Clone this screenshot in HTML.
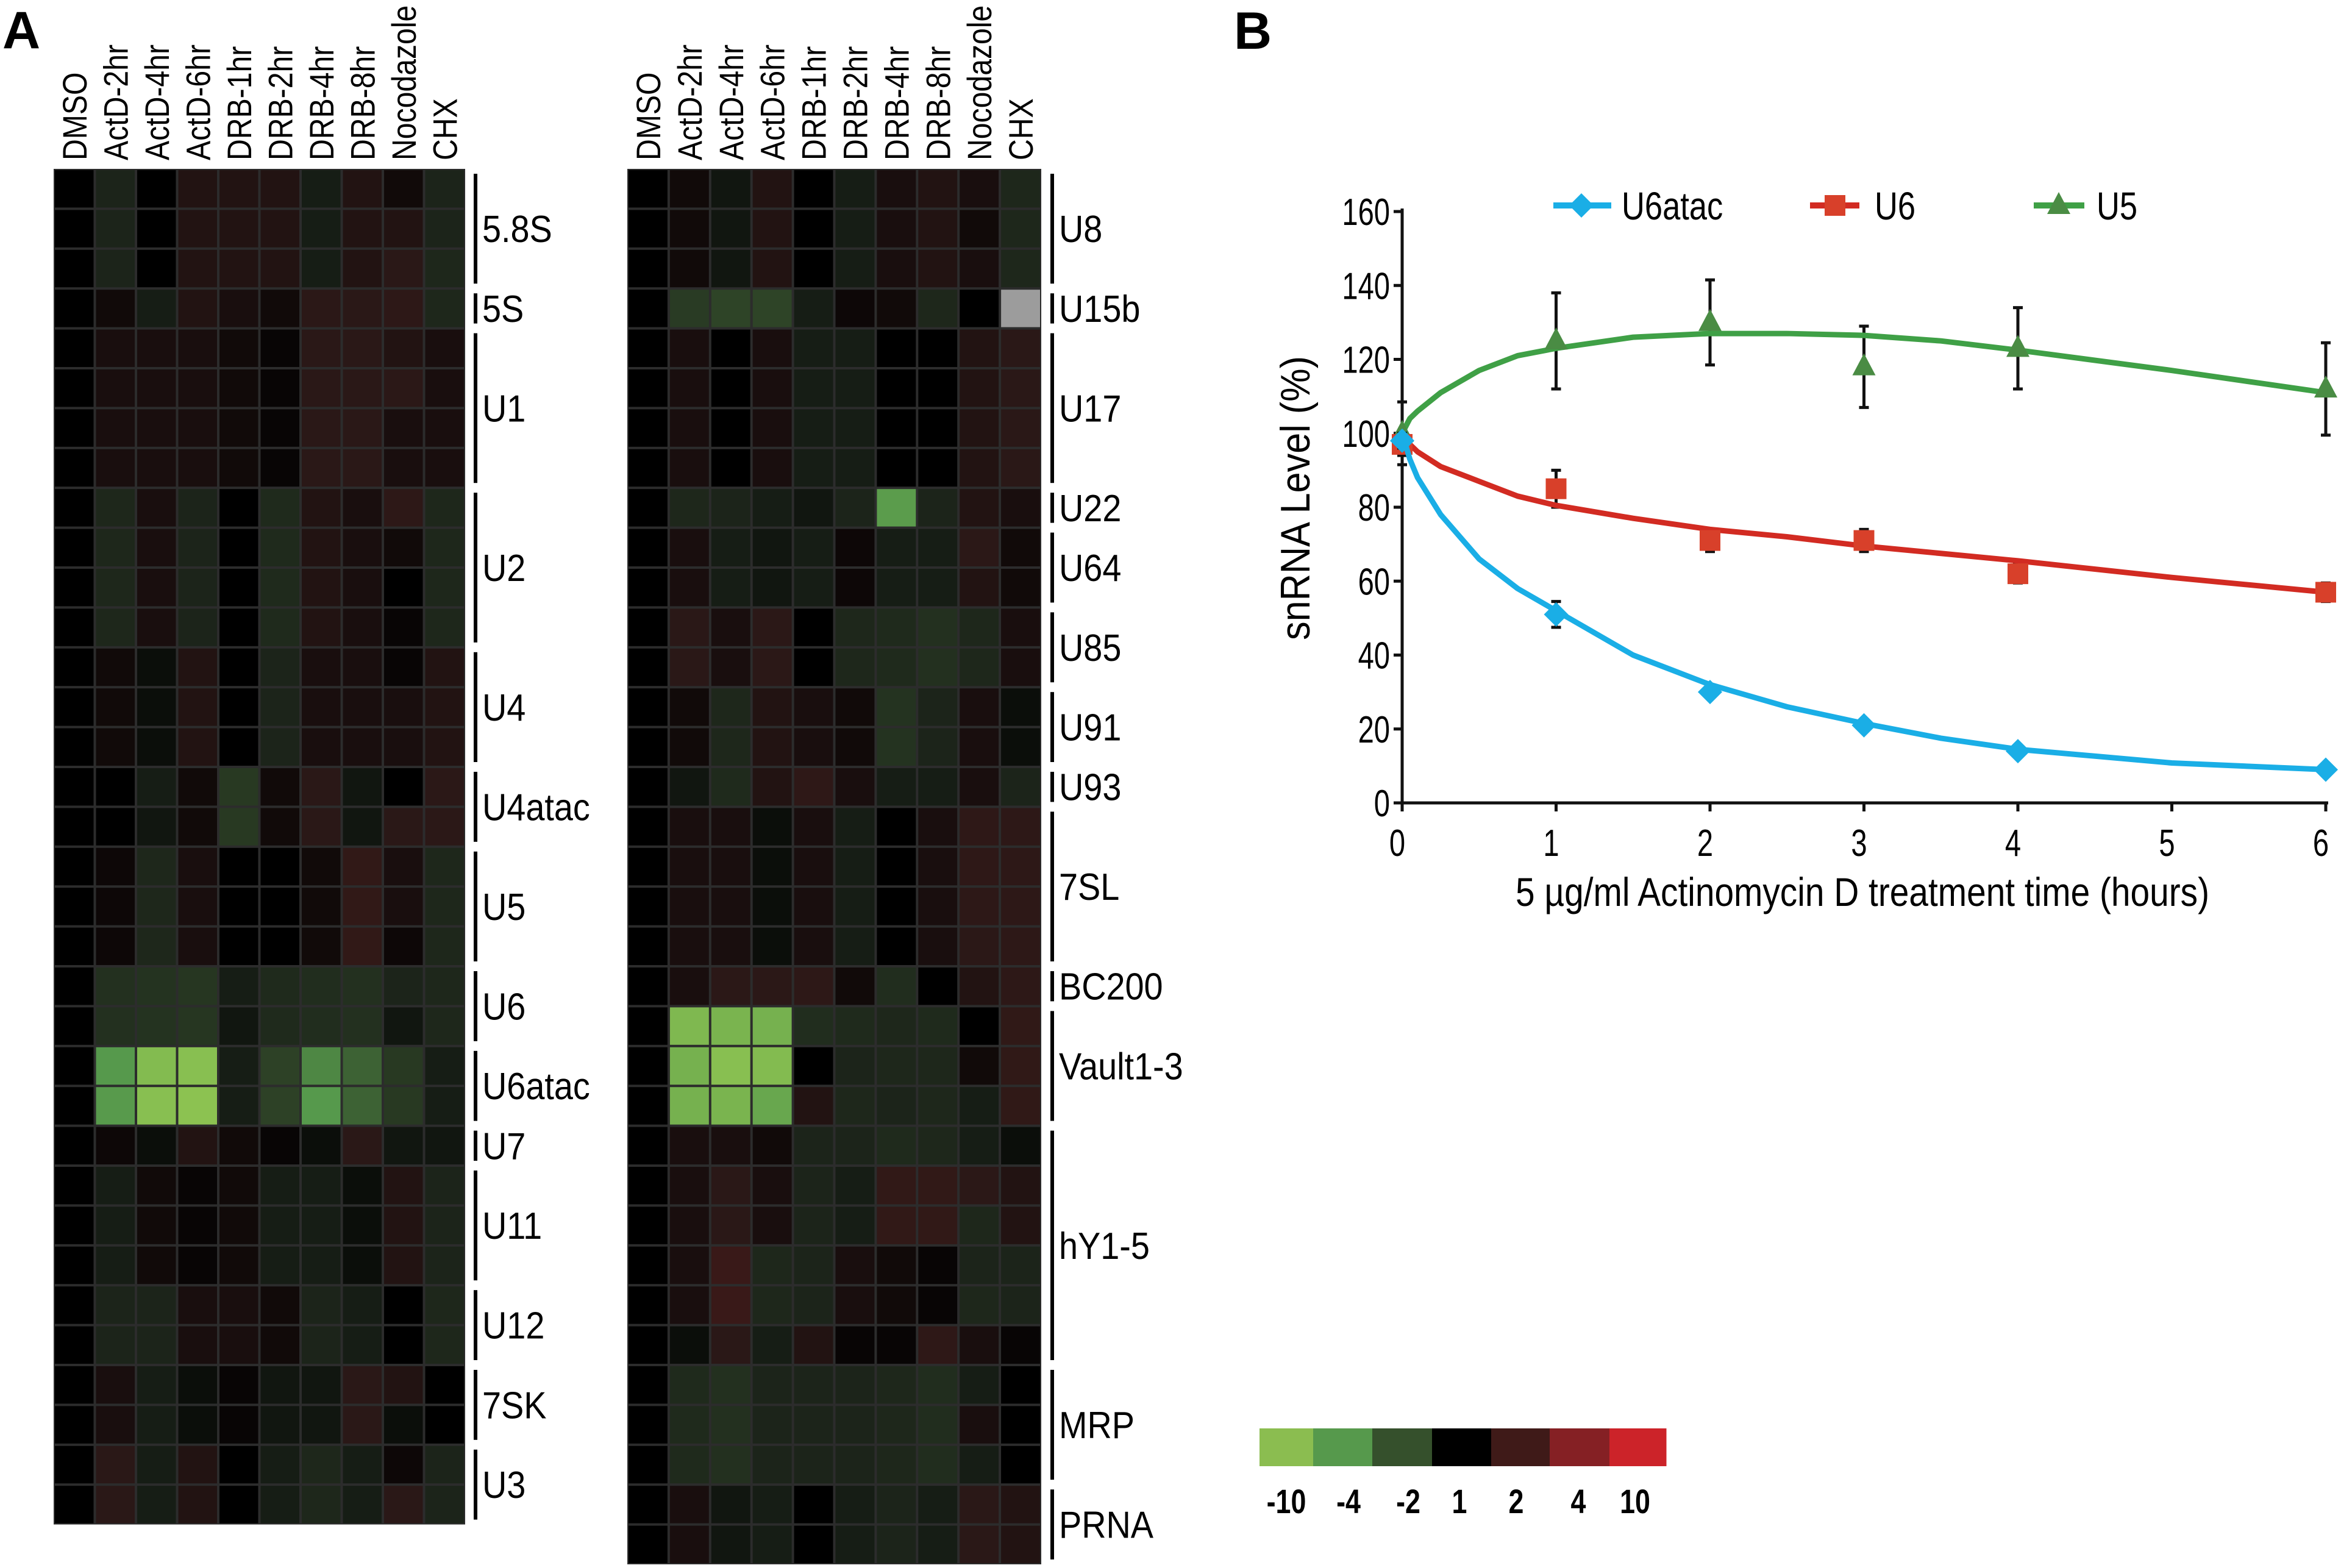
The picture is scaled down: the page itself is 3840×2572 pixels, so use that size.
<!DOCTYPE html>
<html><head><meta charset="utf-8"><title>snRNA heatmap and decay chart</title>
<style>html,body{margin:0;padding:0;background:#fff;}svg{display:block;}</style>
</head><body>
<svg id="fig" xmlns="http://www.w3.org/2000/svg" width="3840" height="2572" viewBox="0 0 3840 2572" font-family="Liberation Sans, Arial, sans-serif">
<rect width="3840" height="2572" fill="#fff"/>
<text x="4" y="79" font-size="86" font-weight="bold">A</text>
<text x="2024" y="80" font-size="86" font-weight="bold">B</text>
<g id="hmL"></g>
<g id="hmR"></g>
<g id="cbar"></g>
<g id="chart"></g>
</svg>
<script>
const NS="http://www.w3.org/2000/svg";
const conditions=["DMSO","ActD-2hr","ActD-4hr","ActD-6hr","DRB-1hr","DRB-2hr","DRB-4hr","DRB-8hr","Nocodazole","CHX"];
const leftGroups=["5.8S","5S","U1","U2","U4","U4atac","U5","U6","U6atac","U7","U11","U12","7SK","U3"];
const leftGroupRows=[3,1,4,4,3,2,3,2,2,1,3,2,2,2];
const rightGroups=["U8","U15b","U17","U22","U64","U85","U91","U93","7SL","BC200","Vault1-3","hY1-5","MRP","PRNA"];
const rightGroupRows=[3,1,4,1,2,2,2,1,4,1,3,6,3,2];
const leftValues=[
[0,-0.5,0,0.4,0.4,0.4,-0.4,0.4,0.2,-0.5],
[0,-0.5,0,0.4,0.4,0.4,-0.4,0.4,0.4,-0.5],
[0,-0.5,0,0.4,0.4,0.4,-0.4,0.4,0.5,-0.6],
[0,0.2,-0.4,0.4,0.3,0.2,0.6,0.5,0.7,-0.6],
[0,0.3,0.3,0.3,0.2,0.1,0.5,0.5,0.4,0.3],
[0,0.3,0.3,0.3,0.2,0.1,0.5,0.5,0.6,0.3],
[0,0.3,0.3,0.3,0.2,0.1,0.5,0.5,0.3,0.3],
[0,0.3,0.3,0.3,0.2,0.1,0.5,0.5,0.3,0.3],
[0,-0.6,0.3,-0.5,0,-0.7,0.4,0.3,0.7,-0.6],
[0,-0.6,0.3,-0.5,0,-0.7,0.4,0.3,0.2,-0.6],
[0,-0.6,0.3,-0.5,0,-0.7,0.4,0.3,0,-0.6],
[0,-0.6,0.3,-0.5,0,-0.7,0.4,0.3,0.1,-0.6],
[0,0.2,-0.2,0.4,0,-0.5,0.3,0.3,0.1,0.4],
[0,0.2,-0.2,0.4,0,-0.5,0.3,0.3,0.3,0.4],
[0,0.2,-0.2,0.4,0,-0.5,0.3,0.3,0.3,0.4],
[0,0,-0.4,0.2,-1.2,0.2,0.5,-0.3,0,0.6],
[0,0,-0.3,0.2,-1.2,0.2,0.5,-0.3,0.5,0.6],
[0,0.15,-0.6,0.3,0,0,0.2,1.0,0.3,-0.6],
[0,0.15,-0.6,0.3,0,0,0.2,1.0,0.3,-0.6],
[0,0.15,-0.6,0.3,0,0,0.2,1.0,0.15,-0.6],
[0,-0.9,-1.0,-1.1,-0.4,-0.7,-0.8,-0.9,-0.5,-0.6],
[0,-0.9,-1.0,-1.1,-0.3,-0.7,-0.8,-0.9,-0.3,-0.6],
[0,-4,-9,-9.5,-0.4,-1.5,-3.5,-2.5,-1.2,-0.4],
[0,-4.2,-9.5,-10,-0.4,-1.5,-4,-2.5,-1.2,-0.4],
[0,0.15,-0.2,0.4,0.2,0.1,-0.2,0.5,-0.3,-0.3],
[0,-0.4,0.2,0.1,0.2,-0.4,-0.4,-0.2,0.4,-0.5],
[0,-0.4,0.2,0.1,0.2,-0.4,-0.4,-0.2,0.4,-0.5],
[0,-0.4,0.2,0.1,0.2,-0.4,-0.4,-0.2,0.4,-0.5],
[0,-0.5,-0.5,0.3,0.3,0.2,-0.5,-0.4,0,-0.6],
[0,-0.5,-0.5,0.3,0.3,0.2,-0.5,-0.4,0,-0.6],
[0,0.3,-0.4,-0.2,0.1,-0.3,-0.3,0.5,0.4,0],
[0,0.3,-0.4,-0.2,0.1,-0.3,-0.3,0.5,-0.2,0],
[0,0.5,-0.4,0.4,0,-0.4,-0.6,-0.4,0.15,-0.5],
[0,0.5,-0.4,0.4,0,-0.4,-0.6,-0.4,0.5,-0.5]];
const rightValues=[
[0,0.2,-0.3,0.4,0,-0.4,0.3,0.4,0.3,-0.6],
[0,0.2,-0.3,0.4,0,-0.4,0.3,0.4,0.2,-0.6],
[0,0.2,-0.3,0.4,0,-0.4,0.3,0.4,0.3,-0.6],
[0,-1.3,-1.6,-1.6,-0.4,0.15,0.2,-0.6,0,null],
[0,0.3,0,0.3,-0.4,-0.4,0,0,0.4,0.5],
[0,0.3,0,0.3,-0.4,-0.4,0,0,0.4,0.5],
[0,0.3,0,0.3,-0.4,-0.4,0,0,0.4,0.5],
[0,0.3,0,0.3,-0.4,-0.4,0,0,0.4,0.5],
[0,-0.6,-0.5,-0.4,-0.3,-0.5,-4.5,-0.5,0.4,0.3],
[0,0.3,-0.4,-0.3,-0.4,0.15,-0.4,-0.4,0.6,0.2],
[0,0.3,-0.4,-0.3,-0.4,0.15,-0.4,-0.4,0.4,0.2],
[0,0.5,0.3,0.6,0,-0.6,-0.7,-0.9,-0.6,0.3],
[0,0.5,0.3,0.6,0,-0.6,-0.7,-0.9,-0.6,0.3],
[0,0.2,-0.6,0.4,0.3,0.2,-1.0,-0.5,0.3,-0.2],
[0,0.2,-0.6,0.4,0.3,0.2,-1.0,-0.5,0.3,-0.2],
[0,-0.3,-0.7,0.4,0.8,0.3,-0.4,-0.4,0.3,-0.5],
[0,0.3,0.3,-0.2,0.3,-0.4,0,0.3,0.8,0.7],
[0,0.3,0.3,-0.2,0.3,-0.4,0,0.3,0.8,0.7],
[0,0.3,0.3,-0.2,0.3,-0.4,0,0.3,0.7,0.7],
[0,0.3,0.3,-0.2,0.3,-0.4,0,0.3,0.6,0.7],
[0,0.3,0.6,0.6,0.7,0.2,-0.8,0,0.4,0.7],
[0,-8.5,-8,-7.5,-0.8,-0.7,-0.6,-0.7,0,0.9],
[0,-7.5,-9.5,-9,0,-0.5,-0.6,-0.6,0.2,0.9],
[0,-7.5,-8,-6,0.4,-0.6,-0.5,-0.6,-0.4,0.9],
[0,0.3,0.3,0.2,-0.5,-0.5,-0.7,-0.6,-0.4,-0.2],
[0,0.3,0.5,0.3,-0.5,-0.4,1.0,1.0,0.6,0.4],
[0,0.3,0.5,0.3,-0.5,-0.4,1.0,1.0,-0.6,0.4],
[0,0.3,1.6,-0.6,-0.5,0.3,0.2,0.1,-0.5,-0.5],
[0,0.3,1.6,-0.6,-0.5,0.3,0.2,0.1,-0.6,-0.5],
[0,-0.2,0.5,-0.4,0.4,0.1,0.1,0.8,0.3,0.1],
[0,-0.7,-0.9,-0.5,-0.5,-0.5,-0.6,-0.8,-0.4,0],
[0,-0.7,-0.9,-0.5,-0.5,-0.5,-0.6,-0.8,0.3,0],
[0,-0.7,-0.9,-0.5,-0.5,-0.5,-0.6,-0.8,-0.4,0],
[0,0.3,-0.3,-0.4,0,-0.4,-0.5,-0.4,0.5,0.4],
[0,0.3,-0.3,-0.4,0,-0.4,-0.5,-0.4,0.5,0.4]];
const scaleLabels=["-10","-4","-2","1","2","4","10"];
const scaleColors=["#8bbd50","#56994c","#35502c","#000000","#3f1a18","#852024","#cc2329"];
// chart data
const times=[0,1,2,3,4,6];
const u6atac=[98,51,30,21,14,9];
const u6=[97,85,71,71,62,57];
const u5=[100,125,130,118,123,112];
const u6atacErr=[2,3.5,1,1.5,1,1];
const u6Err=[3,5,3,3,2.5,2.5];
const u5Err=[8.5,13,11.5,11,11,12.5];
const fitTimes=[0,0.05,0.1,0.25,0.5,0.75,1,1.5,2,2.5,3,3.5,4,5,6];
const u6atacFit=[100,93,88,78,66,58,52,40,32,26,21.5,17.5,14.5,10.8,9];
const u6Fit=[100,97,95,91,87,83,80.5,77,74,72,69.5,67.5,65.5,61,57];
const u5Fit=[100,104,106,111,117,121,123,126,127,127,126.5,125,122.5,117,111];
const yTicks=[0,20,40,60,80,100,120,140,160];
const xTicks=[0,1,2,3,4,5,6];

function el(tag,attrs,parent){const e=document.createElementNS(NS,tag);for(const k in attrs)e.setAttribute(k,attrs[k]);if(parent)parent.appendChild(e);return e;}
const anchors=[[-10,[140,194,81]],[-4,[86,153,76]],[-2,[53,80,44]],[-0.5,[28,36,26]],[0,[0,0,0]],[0.5,[42,24,23]],[2,[63,26,24]],[4,[133,32,36]],[10,[204,35,41]]];
function cellColor(v){
  if(v===null)return "#9c9c9c";
  v=Math.max(-10,Math.min(10,v));
  for(let i=0;i<anchors.length-1;i++){const a=anchors[i],b=anchors[i+1];
    if(v>=a[0]&&v<=b[0]){const t=(v-a[0])/(b[0]-a[0]);const c=a[1].map((x,j)=>Math.round(x+(b[1][j]-x)*t));return `rgb(${c[0]},${c[1]},${c[2]})`;}}
  return "#000";
}
function heatmap(g,x0,x1,values,groups,groupRows,barX,side){
  const top=277,rh=65.4,cw=(x1-x0)/conditions.length;
  el('rect',{x:x0,y:top,width:x1-x0,height:rh*values.length,fill:'#2c2c2c'},g);
  values.forEach((row,r)=>row.forEach((v,c)=>{
    const rc=el('rect',{x:x0+c*cw+2,y:top+r*rh+2,width:cw-4,height:rh-4,fill:cellColor(v)},g);
    
    
  }));
  conditions.forEach((name,c)=>{
    const cx=x0+(c+0.5)*cw+20;
    const t=el('text',{transform:`translate(${cx},263) rotate(-90) scale(0.86,1)`,'font-size':56},g);t.textContent=name;
    
    
  });
  let r0=0;
  groups.forEach((name,i)=>{
    const n=groupRows[i];const y0=top+r0*rh,y1=top+(r0+n)*rh;
    const ln=el('rect',{x:barX,y:y0+8,width:6,height:y1-y0-16,fill:'#000'},g);
    
    
    const t=el('text',{transform:`translate(${barX+14},${(y0+y1)/2+22}) scale(0.9,1)`,'font-size':62},g);t.textContent=name;
    
    
    r0+=n;
  });
}
heatmap(document.getElementById('hmL'),88,763,leftValues,leftGroups,leftGroupRows,777,'left');
heatmap(document.getElementById('hmR'),1029,1708,rightValues,rightGroups,rightGroupRows,1723,'right');

// color scale
(function(){
  const g=document.getElementById('cbar');
  const bx=[2066,2154,2251,2349,2446,2542,2640,2733];
  scaleColors.forEach((col,i)=>{
    const r=el('rect',{x:bx[i],y:2343,width:bx[i+1]-bx[i]+0.5,height:62,fill:col},g);
    
    
  });
  const lx=[2110,2212,2310,2394,2487,2589,2682];
  scaleLabels.forEach((s,i)=>{
    const t=el('text',{transform:`translate(${lx[i]},2482) scale(0.8,1)`,'text-anchor':'middle','font-size':56,'font-weight':'bold'},g);t.textContent=s;
    
    
  });
})();

// line chart
(function(){
  const g=document.getElementById('chart');
  const X0=2300,X1=3815,Y0=1317,Y1=347;
  const sx=t=>X0+(X1-X0)*t/6, sy=v=>Y0+(Y1-Y0)*v/160;
  const ax=el('path',{d:`M${X0},${Y1-5} V${Y0} H${X1+4}`,stroke:'#111',fill:'none','stroke-width':5},g);
  
  
  yTicks.forEach(v=>{
    el('line',{x1:X0-14,x2:X0,y1:sy(v),y2:sy(v),stroke:'#111','stroke-width':5},g);
    const t=el('text',{transform:`translate(${X0-20},${sy(v)+22}) scale(0.76,1)`,'text-anchor':'end','font-size':62},g);t.textContent=v;
    
    
  });
  xTicks.forEach(v=>{
    el('line',{x1:sx(v),x2:sx(v),y1:Y0,y2:Y0+14,stroke:'#111','stroke-width':5},g);
    const t=el('text',{transform:`translate(${sx(v)-8},1404) scale(0.76,1)`,'text-anchor':'middle','font-size':62},g);t.textContent=v;
    
    
  });
  const yt=el('text',{transform:'translate(2148,817) rotate(-90)','text-anchor':'middle','font-size':68,textLength:466,lengthAdjust:'spacingAndGlyphs'},g);yt.textContent='snRNA Level (%)';
  
  
  const xt=el('text',{x:3055,y:1486,'text-anchor':'middle','font-size':66,textLength:1138,lengthAdjust:'spacingAndGlyphs'},g);xt.textContent='5 \u00b5g/ml Actinomycin D treatment time (hours)';
  
  
  function smooth(vals){
    const p=fitTimes.map((t,i)=>[sx(t),sy(vals[i])]);
    let d=`M${p[0][0]},${p[0][1]}`;
    for(let i=1;i<p.length;i++){d+=` L${p[i][0]},${p[i][1]}`;}
    return d;
  }
  function marker(type,x,y,col,parent){
    if(type==='d')return el('path',{d:`M${x},${y-20} L${x+20},${y} L${x},${y+20} L${x-20},${y} Z`,fill:col},parent);
    if(type==='s')return el('rect',{x:x-17,y:y-17,width:34,height:34,fill:col},parent);
    return el('path',{d:`M${x},${y-22} L${x+19},${y+14} L${x-19},${y+14} Z`,fill:col},parent);
  }
  const series=[
    {name:'U5',vals:u5,err:u5Err,fit:u5Fit,line:'#3fa046',mk:'#4a8c44',type:'t'},
    {name:'U6',vals:u6,err:u6Err,fit:u6Fit,line:'#d22b22',mk:'#d8402a',type:'s'},
    {name:'U6atac',vals:u6atac,err:u6atacErr,fit:u6atacFit,line:'#1aaee6',mk:'#1aaee6',type:'d'}];
  series.forEach(s=>{
    const sg=el('g',{},g);
    
    
    times.forEach((t,i)=>{
      const x=sx(t),ya=sy(s.vals[i]+s.err[i]),yb=sy(s.vals[i]-s.err[i]);
      el('path',{d:`M${x},${ya} V${yb} M${x-8},${ya} H${x+8} M${x-8},${yb} H${x+8}`,stroke:'#111','stroke-width':5,fill:'none'},sg);
    });
    const ln=el('path',{d:smooth(s.fit),stroke:s.line,'stroke-width':9,fill:'none','stroke-linejoin':'round','stroke-linecap':'round'},sg);
    
    
    times.forEach((t,i)=>{
      const m=marker(s.type,sx(t),sy(s.vals[i]),s.mk,sg);
      
      
    });
  });
  const legend=[['U6atac','#1aaee6','d',2548,2643,2594,2660],['U6','#d22b22','s',2969,3050,3010,3075],['U5','#3fa046','t',3336,3419,3377,3439]];
  legend.forEach(L=>{
    const lg=el('g',{},g);
    
    
    el('line',{x1:L[3],x2:L[4],y1:337,y2:337,stroke:L[1],'stroke-width':10},lg);
    marker(L[2],L[5],337,L[2]==='t'?'#4a8c44':(L[2]==='s'?'#d8402a':L[1]),lg);
    const t=el('text',{transform:`translate(${L[6]},360) scale(0.82,1)`,'font-size':64},lg);t.textContent=L[0];
  });
})();
</script>
</body></html>
